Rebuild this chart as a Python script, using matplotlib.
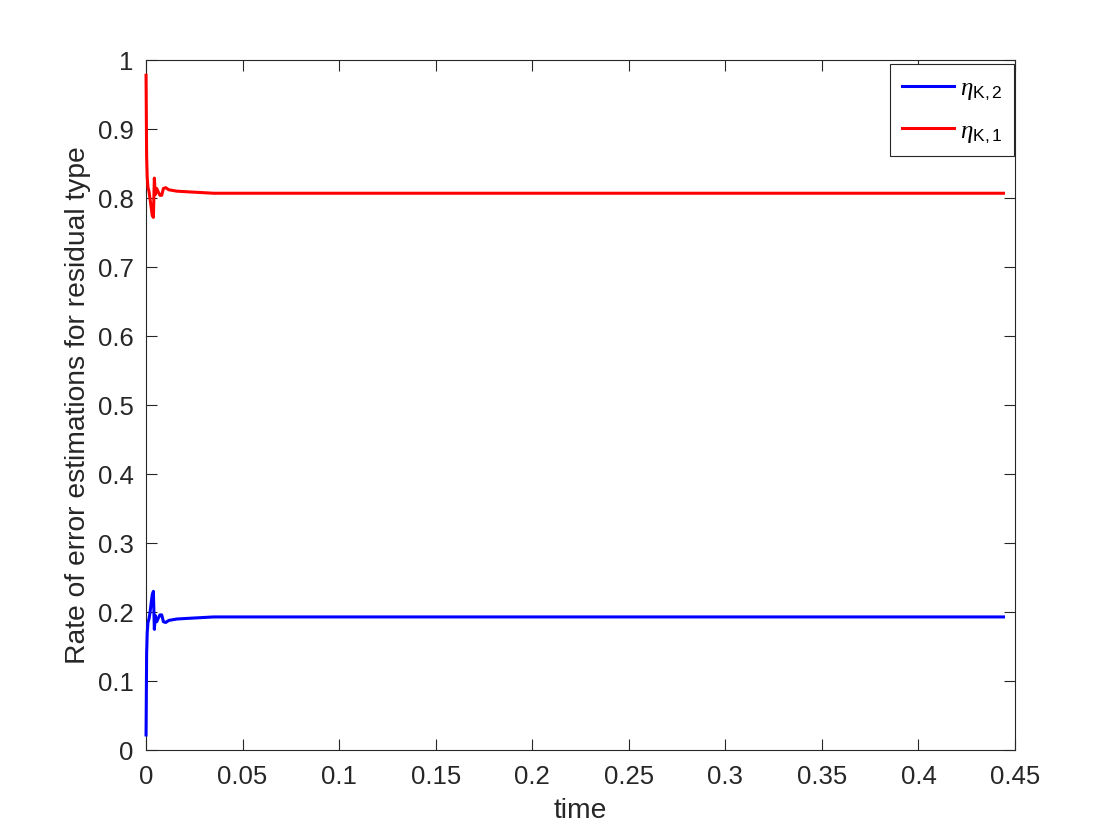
import matplotlib
matplotlib.use('Agg')
import matplotlib.pyplot as plt
import numpy as np

# values
time = [0.0, 0.0003, 0.0006, 0.001, 0.0015, 0.002, 0.0026, 0.0032, 0.0038, 0.0043,
        0.0048, 0.0055, 0.0063, 0.0072, 0.0081, 0.009, 0.0102, 0.0118, 0.016, 0.022,
        0.035, 0.1, 0.2, 0.3, 0.444]
eta_k2 = [0.022, 0.14, 0.17, 0.185, 0.19, 0.198, 0.212, 0.225, 0.23, 0.175,
          0.195, 0.186, 0.191, 0.196, 0.196, 0.186, 0.185, 0.188, 0.19, 0.191,
          0.193, 0.193, 0.193, 0.193, 0.193]
eta_k1 = [0.978, 0.86, 0.83, 0.815, 0.81, 0.8, 0.788, 0.775, 0.772, 0.829,
          0.805, 0.814, 0.809, 0.804, 0.804, 0.814, 0.815, 0.812, 0.81, 0.809,
          0.807, 0.807, 0.807, 0.807, 0.807]

x_ticks = [0, 0.05, 0.1, 0.15, 0.2, 0.25, 0.3, 0.35, 0.4, 0.45]
x_labels = ['0', '0.05', '0.1', '0.15', '0.2', '0.25', '0.3', '0.35', '0.4', '0.45']
y_ticks = [0, 0.1, 0.2, 0.3, 0.4, 0.5, 0.6, 0.7, 0.8, 0.9, 1]
y_labels = ['0', '0.1', '0.2', '0.3', '0.4', '0.5', '0.6', '0.7', '0.8', '0.9', '1']

plt.rcParams['font.family'] = ['Liberation Sans', 'DejaVu Sans']
plt.rcParams['mathtext.fontset'] = 'custom'
plt.rcParams['mathtext.rm'] = 'Liberation Sans'
plt.rcParams['mathtext.it'] = 'Liberation Serif:italic'

ink = '#262626'
fig = plt.figure(figsize=(11.2, 8.4), dpi=100, facecolor='white')
ax = fig.add_axes([0.1304, 0.107, 0.7759, 0.8215])

ax.plot(time, eta_k2, color='#0000ff', lw=2.2, zorder=3, clip_on=False,
        label=r'$\eta_{\mathrm{K,2}}$')
ax.plot(time, eta_k1, color='#ff0000', lw=2.2, zorder=3, clip_on=False,
        label=r'$\eta_{\mathrm{K,1}}$')

ax.set_xlim(0, 0.45)
ax.set_ylim(0, 1)
ax.set_xticks(x_ticks)
ax.set_xticklabels(x_labels)
ax.set_yticks(y_ticks)
ax.set_yticklabels(y_labels)
ax.tick_params(direction='in', length=8, width=0.8, colors=ink, labelsize=18.5,
               top=True, right=True)
ax.tick_params(axis='x', pad=11)
ax.tick_params(axis='y', pad=9)
for s in ax.spines.values():
    s.set_color(ink)
    s.set_linewidth(0.8)

ax.set_xlabel('time', fontsize=20.3, color=ink, labelpad=6)
ax.set_ylabel('Rate of error estimations for residual type', fontsize=20.3, color=ink, labelpad=5)

leg = ax.legend(loc='upper right', bbox_to_anchor=(1 - 1 / 869, 1 - 4 / 690),
                fontsize=18, fancybox=False, framealpha=1, edgecolor=ink,
                borderaxespad=0, handlelength=2.1, handletextpad=0.25,
                labelspacing=0.65, borderpad=0.45)
leg.get_frame().set_linewidth(0.8)

fig.savefig('out.png', dpi=100, facecolor='white')
